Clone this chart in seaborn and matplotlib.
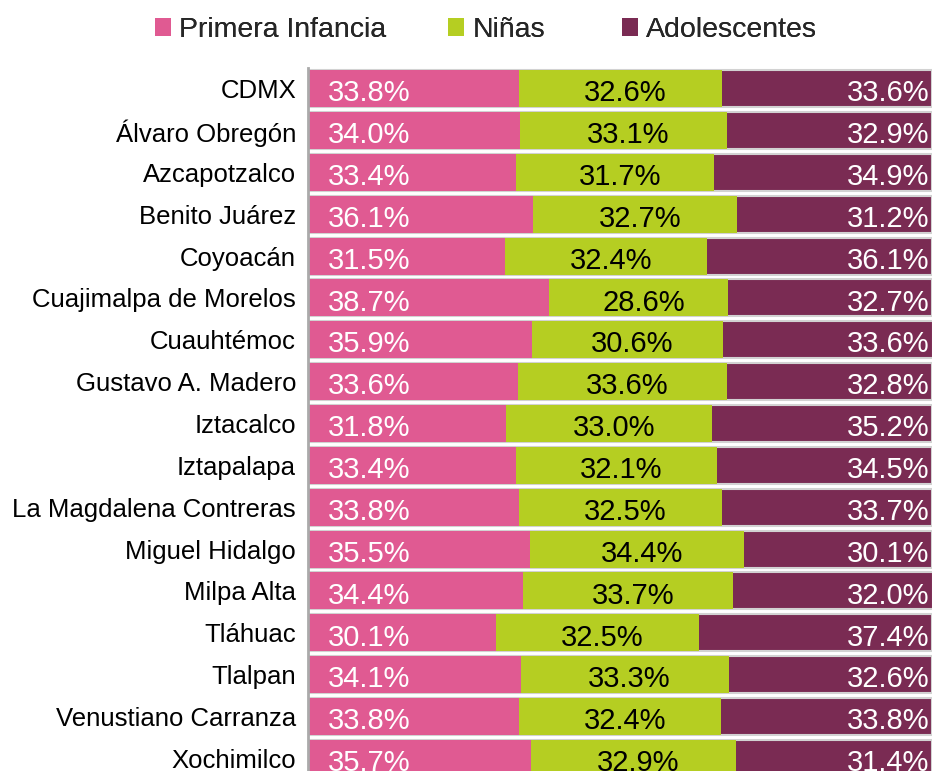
import matplotlib
matplotlib.use("Agg")
import matplotlib.pyplot as plt
import seaborn as sns
import numpy as np
import pandas as pd
from matplotlib.patches import Patch

categories = ["CDMX", "Álvaro Obregón", "Azcapotzalco", "Benito Juárez", "Coyoacán",
              "Cuajimalpa de Morelos", "Cuauhtémoc", "Gustavo A. Madero", "Iztacalco",
              "Iztapalapa", "La Magdalena Contreras", "Miguel Hidalgo", "Milpa Alta",
              "Tláhuac", "Tlalpan", "Venustiano Carranza", "Xochimilco"]
primera = [33.8, 34.0, 33.4, 36.1, 31.5, 38.7, 35.9, 33.6, 31.8, 33.4, 33.8, 35.5, 34.4, 30.1, 34.1, 33.8, 35.7]
ninas = [32.6, 33.1, 31.7, 32.7, 32.4, 28.6, 30.6, 33.6, 33.0, 32.1, 32.5, 34.4, 33.7, 32.5, 33.3, 32.4, 32.9]
adolescentes = [33.6, 32.9, 34.9, 31.2, 36.1, 32.7, 33.6, 32.8, 35.2, 34.5, 33.7, 30.1, 32.0, 37.4, 32.6, 33.8, 31.4]
series_names = ["Primera Infancia", "Niñas", "Adolescentes"]

PINK = "#e05a92"
GREEN = "#b5ce22"
PURPLE = "#7a2b53"

sns.set_theme(style="white")
plt.rcParams["font.family"] = ["Liberation Sans", "DejaVu Sans"]

df = pd.DataFrame({"cat": categories, "p": primera, "n": ninas, "a": adolescentes})
df["pn"] = df["p"] + df["n"]
df["total"] = df["pn"] + df["a"]

fig = plt.figure(figsize=(9.34, 7.71), dpi=100)
ax = fig.add_axes([308 / 934, 0, 624 / 934, 1 - 67.6 / 771])

# stacked bars drawn as overlapping cumulative bars
sns.barplot(data=df, x="total", y="cat", orient="h", color=PURPLE, width=0.884,
            saturation=1, edgecolor="#d2d2d2", linewidth=1.5, ax=ax)
sns.barplot(data=df, x="pn", y="cat", orient="h", color=GREEN, width=0.884,
            saturation=1, linewidth=0, ax=ax)
sns.barplot(data=df, x="p", y="cat", orient="h", color=PINK, width=0.884,
            saturation=1, linewidth=0, ax=ax)

for i, row in df.iterrows():
    ax.text(3.2, i + 0.04, f"{row['p']:.1f}%", color="white", fontsize=21,
            ha="left", va="center_baseline")
    ax.text(row["p"] + row["n"] / 2 + 0.8, i + 0.04, f"{row['n']:.1f}%", color="black", fontsize=21,
            ha="center", va="center_baseline")
    ax.text(99.6, i + 0.04, f"{row['a']:.1f}%", color="white", fontsize=21,
            ha="right", va="center_baseline")

ax.set_xlim(0, 100)
ax.set_ylim(16.3, -0.5)
ax.set_xlabel("")
ax.set_ylabel("")
ax.set_xticks([])
ax.tick_params(axis="y", length=0, pad=8.6, labelsize=18.5, colors="black")
for s in ["top", "right", "bottom"]:
    ax.spines[s].set_visible(False)
ax.spines["left"].set_color("#aaaaaa")
ax.spines["left"].set_linewidth(2)

# legend entries placed one by one, as in the original layout
legend_x = [155, 448, 622]
for name, col, lx in zip(series_names, (PINK, GREEN, PURPLE), legend_x):
    leg = fig.legend([Patch(facecolor=col, edgecolor="none")], [name], loc="center left",
                     bbox_to_anchor=(lx / 934, 1 - 30 / 771), frameon=False, fontsize=20.5,
                     handlelength=0.57, handleheight=0.6, handletextpad=0.28,
                     borderaxespad=0, borderpad=0)
    fig.add_artist(leg)

fig.savefig("out.png", dpi=100)
